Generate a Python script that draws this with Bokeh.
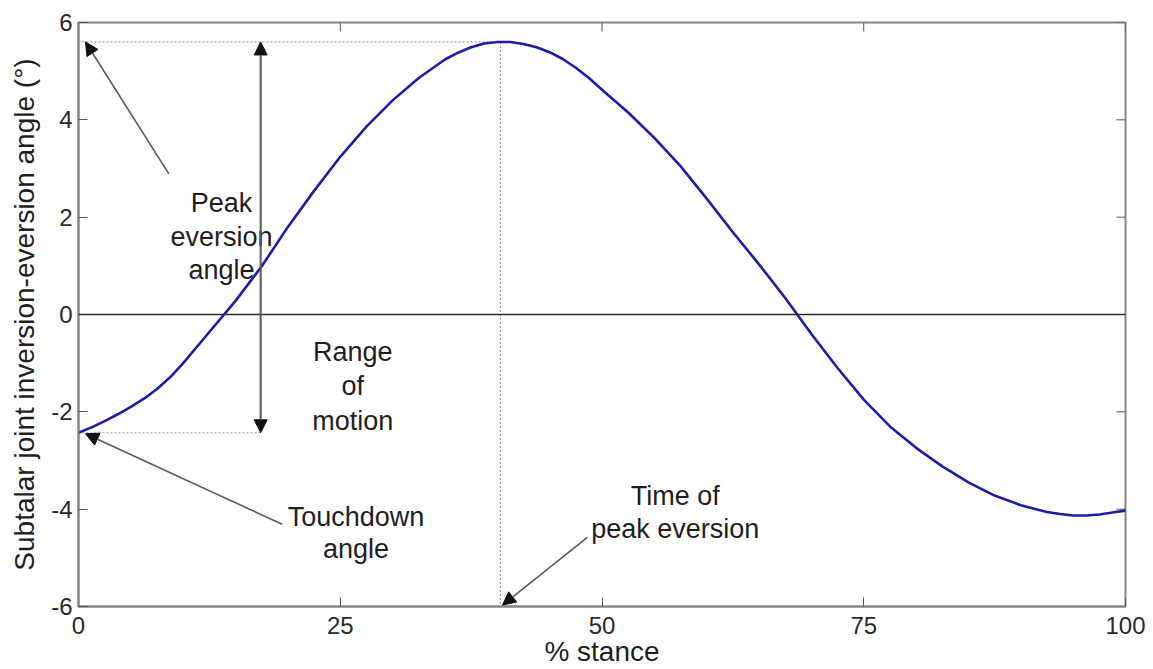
from bokeh.plotting import figure
from bokeh.models import Range1d, Arrow, NormalHead, FixedTicker, Span
from bokeh.embed import file_html
from bokeh.resources import INLINE
from bokeh.core.properties import value

# Subtalar joint inversion-eversion angle over the stance phase
stance_pct = [0, 1.25, 2.5, 3.75, 5, 6.25, 7.5, 8.75, 10, 12.5, 15, 17.5, 20, 22.5,
              25, 27.5, 30, 32.5, 35, 36.25, 37.5, 38.75, 40, 41.25, 42.5, 43.75,
              45, 46.25, 47.5, 48.75, 50, 52.5, 55, 57.5, 60, 62.5, 65, 67.5, 70,
              72.5, 75, 77.5, 80, 82.5, 85, 87.5, 90, 92.5, 93.75, 95, 96.25,
              97.5, 98.75, 100]
angle_deg = [-2.43, -2.32, -2.19, -2.05, -1.90, -1.73, -1.53, -1.29, -1.00, -0.36,
             0.28, 0.99, 1.80, 2.54, 3.24, 3.86, 4.40, 4.86, 5.24, 5.38, 5.49,
             5.57, 5.60, 5.60, 5.56, 5.49, 5.39, 5.25, 5.07, 4.86, 4.62, 4.15,
             3.63, 3.05, 2.38, 1.69, 1.03, 0.34, -0.40, -1.10, -1.75, -2.30,
             -2.74, -3.12, -3.45, -3.72, -3.92, -4.06, -4.10, -4.13, -4.13,
             -4.11, -4.07, -4.03]

x_ticks = [0, 25, 50, 75, 100]
y_ticks = [-6, -4, -2, 0, 2, 4, 6]
y_tick_labels = ["-6", "-4", "-2", "0", "2", "4", "6"]

touchdown_angle = -2.43
peak_angle = 5.60
peak_time = 40.3
rom_marker_x = 17.4

FONT = "Liberation Sans"
BOX = "#858585"
TXT = "#1e1e1e"
GUIDE = "#9a9a9a"

p = figure(width=1153, height=669, x_range=Range1d(0, 100), y_range=Range1d(-6, 6),
           output_backend="svg", toolbar_location=None,
           min_border_left=78, min_border_right=28, min_border_top=22, min_border_bottom=63,
           x_axis_label="% stance",
           y_axis_label="Subtalar joint inversion-eversion angle (\u00b0)")
p.grid.visible = False
p.outline_line_color = BOX
p.outline_line_width = 2
p.background_fill_color = "white"
p.border_fill_color = "white"

for ax, ticks in ((p.xaxis[0], x_ticks), (p.yaxis[0], y_ticks)):
    ax.ticker = FixedTicker(ticks=ticks)
    ax.major_tick_in = 9
    ax.major_tick_out = 0
    ax.minor_tick_line_color = None
    ax.axis_line_color = BOX
    ax.axis_line_width = 2
    ax.major_tick_line_color = "#555555"
    ax.major_tick_line_width = 1
    ax.major_label_text_font = FONT
    ax.major_label_text_font_size = "24px"
    ax.major_label_text_color = "#2a2a2a"
    ax.axis_label_text_font = FONT
    ax.axis_label_text_font_style = "normal"
    ax.axis_label_text_font_size = "28px"
    ax.axis_label_text_color = TXT

p.yaxis[0].major_label_overrides = {t: s for t, s in zip(y_ticks, y_tick_labels)}
p.xaxis[0].major_label_standoff = 10
p.xaxis[0].axis_label_standoff = -1
p.yaxis[0].major_label_standoff = 6
p.yaxis[0].axis_label_standoff = 8

# inward tick marks along the top and right edges of the box
p.segment(x0=x_ticks, y0=[6] * len(x_ticks), x1=x_ticks, y1=[6 - 0.185] * len(x_ticks),
          line_color="#555555", line_width=1)
p.segment(x0=[100 - 0.86] * len(y_ticks), y0=y_ticks, x1=[100] * len(y_ticks), y1=y_ticks,
          line_color="#555555", line_width=1)

# zero reference line
p.add_layout(Span(location=0, dimension="width", line_color="#2b2b2b", line_width=1.5))

# dotted guides
p.line([0, peak_time], [peak_angle, peak_angle], line_color=GUIDE, line_width=1.2, line_dash="2 2")
p.line([peak_time, peak_time], [peak_angle, -6], line_color=GUIDE, line_width=1.2, line_dash="2 2")
p.line([0, rom_marker_x], [touchdown_angle, touchdown_angle], line_color=GUIDE, line_width=1.2, line_dash="2 2")

# curve
p.line(stance_pct, angle_deg, line_color="#1c1ca6", line_width=2.6, line_join="round")

def head():
    return NormalHead(size=13, fill_color="#111111", line_color="#111111", line_width=1)

# range of motion double arrow
p.add_layout(Arrow(start=head(), end=head(), x_start=rom_marker_x, y_start=touchdown_angle,
                   x_end=rom_marker_x, y_end=peak_angle, line_color="#555555", line_width=2))
# pointer arrows
p.add_layout(Arrow(end=head(), x_start=8.63, y_start=2.89, x_end=0.67, y_end=peak_angle,
                   line_color="#5a5a5a", line_width=1.6))
p.add_layout(Arrow(end=head(), x_start=19.45, y_start=-4.31, x_end=0.67, y_end=touchdown_angle - 0.02,
                   line_color="#5a5a5a", line_width=1.6))
p.add_layout(Arrow(end=head(), x_start=48.6, y_start=-4.58, x_end=peak_time + 0.2, y_end=-5.97,
                   line_color="#5a5a5a", line_width=1.6))

def words(x, ys, lines):
    p.text(x=[x] * len(lines), y=ys, text=lines, text_font=value(FONT),
           text_font_size="27px", text_color=TXT, text_align="center",
           text_baseline="alphabetic")

words(13.66, [2.30, 1.60, 0.92], ["Peak", "eversion", "angle"])
words(26.2, [-0.78, -1.47, -2.18], ["Range", "of", "motion"])
words(26.5, [-4.17, -4.82], ["Touchdown", "angle"])
words(57.0, [-3.72, -4.40], ["Time of", "peak eversion"])

open("out.html", "w").write(file_html(p, INLINE))
